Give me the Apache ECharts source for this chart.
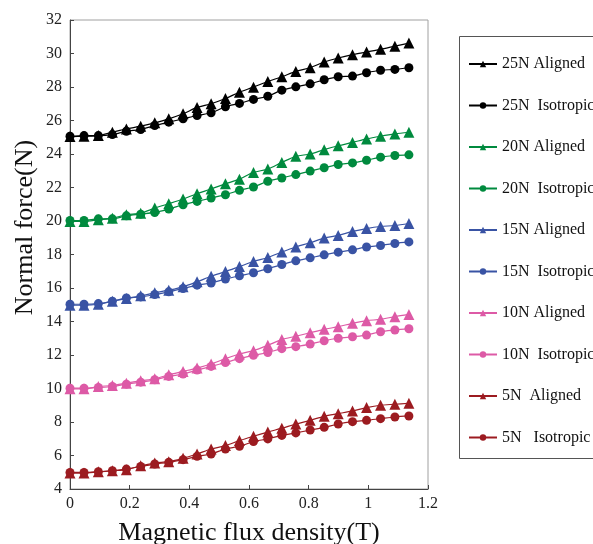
<!DOCTYPE html>
<html>
<head>
<meta charset="utf-8">
<script src="https://cdn.jsdelivr.net/npm/echarts@6/dist/echarts.min.js"></script>
<style>html,body{margin:0;padding:0;background:#fff}#c{width:593px;height:544px}</style>
</head>
<body>
<div id="c"></div>
<script>
var xValues = [0, 0.047, 0.095, 0.142, 0.189, 0.237, 0.284, 0.331, 0.379, 0.426, 0.473, 0.521, 0.568, 0.615, 0.663, 0.710, 0.757, 0.805, 0.852, 0.899, 0.947, 0.994, 1.041, 1.089, 1.136];
var s25Aligned = [25.04,25.06,25.1,25.3,25.5,25.66,25.86,26.1,26.4,26.78,27.0,27.31,27.69,27.99,28.33,28.61,28.93,29.15,29.49,29.73,29.93,30.09,30.25,30.44,30.62];
var s25Iso = [25.06,25.1,25.1,25.16,25.36,25.46,25.7,25.9,26.1,26.3,26.46,26.82,27.02,27.26,27.45,27.81,28.01,28.19,28.43,28.61,28.65,28.85,29.0,29.05,29.15];
var s20Aligned = [19.97,19.97,20.07,20.17,20.37,20.47,20.77,21.03,21.31,21.63,21.91,22.22,22.5,22.9,23.1,23.5,23.86,24.0,24.26,24.49,24.69,24.9,25.06,25.2,25.3];
var s20Iso = [20.03,20.03,20.13,20.13,20.31,20.41,20.51,20.71,20.97,21.17,21.37,21.57,21.83,22.03,22.37,22.57,22.77,22.98,23.18,23.37,23.47,23.63,23.81,23.91,23.95];
var s15Aligned = [14.97,14.97,15.03,15.21,15.37,15.53,15.71,15.87,16.07,16.37,16.7,16.98,17.28,17.58,17.82,18.15,18.45,18.7,18.98,19.14,19.38,19.55,19.67,19.73,19.85];
var s15Iso = [15.03,15.03,15.07,15.21,15.41,15.47,15.61,15.77,15.97,16.17,16.3,16.53,16.73,16.91,17.15,17.4,17.62,17.8,17.98,18.14,18.28,18.45,18.54,18.66,18.75];
var s10Aligned = [9.98,9.98,10.12,10.18,10.32,10.46,10.58,10.82,11.02,11.22,11.46,11.78,12.06,12.26,12.58,12.92,13.12,13.33,13.53,13.69,13.89,14.05,14.13,14.29,14.42];
var s10Iso = [10.02,10.02,10.06,10.12,10.26,10.38,10.52,10.72,10.86,11.1,11.32,11.55,11.78,11.98,12.15,12.38,12.5,12.65,12.85,13.0,13.09,13.19,13.39,13.49,13.57];
var s5Aligned = [4.95,4.95,5.03,5.09,5.15,5.39,5.55,5.63,5.83,6.09,6.39,6.59,6.89,7.15,7.4,7.63,7.88,8.1,8.34,8.5,8.66,8.86,9.0,9.06,9.12];
var s5Iso = [4.99,4.99,5.03,5.09,5.19,5.35,5.49,5.59,5.75,5.95,6.09,6.39,6.55,6.83,6.99,7.2,7.35,7.52,7.68,7.88,8.02,8.1,8.2,8.3,8.36];

var seriesNames = ['25N Aligned','25N  Isotropic','20N Aligned','20N  Isotropic','15N Aligned','15N  Isotropic','10N Aligned','10N  Isotropic','5N  Aligned','5N   Isotropic'];
var seriesData = [s25Aligned,s25Iso,s20Aligned,s20Iso,s15Aligned,s15Iso,s10Aligned,s10Iso,s5Aligned,s5Iso];
var colors = ['#000000','#000000','#008a3e','#008a3e','#3953a4','#3953a4','#dd5aa6','#dd5aa6','#9c1b20','#9c1b20'];
var symbols = ['triangle','circle','triangle','circle','triangle','circle','triangle','circle','triangle','circle'];

var FONT = 'Liberation Serif';
var series = seriesNames.map(function(n, i){
  return {
    name: n, type: 'line', smooth: 0.3,
    data: xValues.map(function(x, j){ return [x, seriesData[i][j]]; }),
    symbol: symbols[i],
    symbolSize: symbols[i] === 'triangle' ? 11 : 9,
    itemStyle: {color: colors[i]},
    lineStyle: {color: colors[i], width: 1.2},
    animation: false
  };
});

var chart = echarts.init(document.getElementById('c'));
chart.setOption({
  animation: false,
  backgroundColor: '#fff',
  grid: {left: 70, right: 165, top: 20, bottom: 55, outerBoundsMode: 'none', containLabel: false,
         show: true, borderColor: '#a0a0a0', borderWidth: 1},
  xAxis: {
    type: 'value', min: 0, max: 1.2, interval: 0.2,
    name: 'Magnetic flux density(T)', nameLocation: 'middle', nameGap: 31,
    nameTextStyle: {fontFamily: FONT, fontSize: 26, color: '#111'},
    axisLine: {show: true, lineStyle: {color: '#444', width: 1}},
    axisTick: {show: true, inside: true, length: 4, lineStyle: {color: '#444'}},
    axisLabel: {fontFamily: FONT, fontSize: 16, color: '#222', margin: 7},
    splitLine: {show: false}
  },
  yAxis: {
    type: 'value', min: 4, max: 32, interval: 2,
    name: 'Normal force(N)', nameLocation: 'middle', nameGap: 32, nameMoveOverlap: false,
    nameTextStyle: {fontFamily: FONT, fontSize: 26, color: '#111', padding: [0, 0, 0, 54]},
    axisLine: {show: true, lineStyle: {color: '#444', width: 1}},
    axisTick: {show: true, inside: true, length: 4, lineStyle: {color: '#444'}},
    axisLabel: {fontFamily: FONT, fontSize: 16, color: '#222', margin: 8},
    splitLine: {show: false}
  },
  legend: {
    orient: 'vertical', left: 468, top: 56, padding: 0,
    itemWidth: 28, itemHeight: 8, itemGap: 25.5,
    textStyle: {fontFamily: FONT, fontSize: 16, color: '#111'},
    data: seriesNames
  },
  graphic: [{
    type: 'rect', shape: {x: 459.5, y: 36.5, width: 150, height: 422},
    style: {fill: 'none', stroke: '#555', lineWidth: 1}, silent: true
  }],
  series: series
});
</script>
</body>
</html>
